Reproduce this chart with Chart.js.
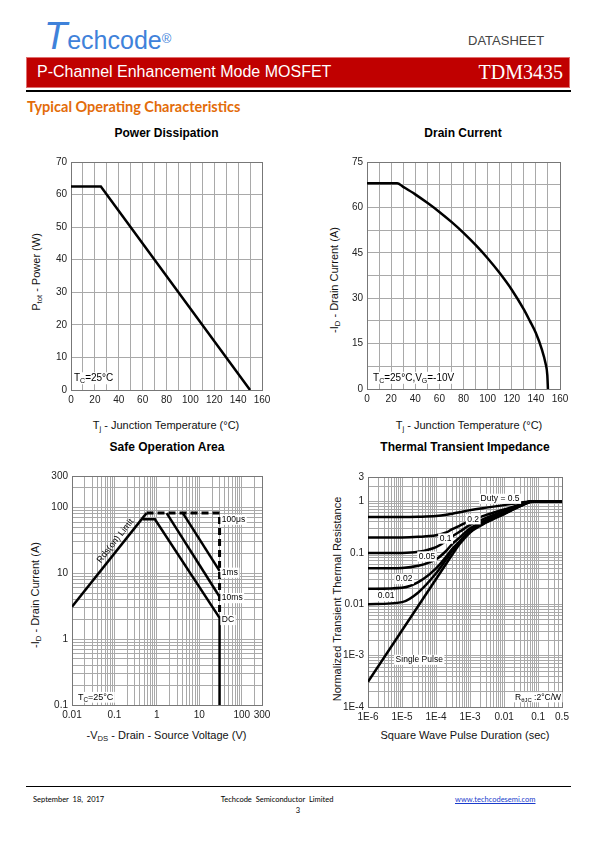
<!DOCTYPE html>
<html>
<head>
<meta charset="utf-8">
<script src="https://cdn.jsdelivr.net/npm/chart.js@4.4.1/dist/chart.umd.min.js"></script>
<style>
body { margin: 0; width: 595px; height: 842px; position: relative; background: #fff; overflow: hidden;
       font-family: "Liberation Sans", Arial, sans-serif; color: #000; }
.abs { position: absolute; white-space: nowrap; }
.ctr { transform: translate(-50%, -50%); }
.rot { transform: translate(-50%, -50%) rotate(-90deg); }
.ttl { font-size: 12px; font-weight: bold; }
.axt { font-size: 11px; color: #111; }
sub { font-size: 70%; vertical-align: -0.3em; line-height: 0; }
canvas { position: absolute; }
</style>
</head>
<body>

<!-- page header -->
<div class="abs" style="left:44px;top:15px;color:#3f82da;">
  <span style="font-size:38px;font-style:italic;">T</span><span style="font-size:25px;">echcode</span><sup style="font-size:13px;">®</sup>
</div>
<div class="abs" style="left:468px;top:33px;font-size:13px;color:#444;">DATASHEET</div>
<div class="abs" style="left:26px;top:57px;width:544px;height:31px;background:#c00000;border:1px solid #e07070;box-sizing:border-box;"></div>
<div class="abs" style="left:37px;top:63px;font-size:16px;color:#fff;">P-Channel Enhancement Mode MOSFET</div>
<div class="abs" style="right:32px;top:61px;font-size:20px;color:#fff;font-family:'Liberation Serif',serif;">TDM3435</div>
<div class="abs" style="left:26px;top:90px;width:545px;height:2px;background:#000;"></div>
<div class="abs" style="left:27px;top:98px;font-size:14.5px;font-weight:bold;color:#e36c09;font-family:Lato,sans-serif;">Typical Operating Characteristics</div>

<!-- chart titles -->
<div class="abs ctr ttl" style="left:166.5px;top:132.5px;">Power Dissipation</div>
<div class="abs ctr ttl" style="left:463px;top:132.5px;">Drain Current</div>
<div class="abs ctr ttl" style="left:167px;top:446.5px;">Safe Operation Area</div>
<div class="abs ctr ttl" style="left:465px;top:446.5px;">Thermal Transient Impedance</div>

<!-- axis titles -->
<div class="abs ctr axt" style="left:166px;top:425px;">T<sub>j</sub> - Junction Temperature (°C)</div>
<div class="abs rot axt" style="left:36px;top:272px;">P<sub>tot</sub> - Power (W)</div>
<div class="abs ctr axt" style="left:469px;top:425px;">T<sub>j</sub> - Junction Temperature (°C)</div>
<div class="abs rot axt" style="left:334px;top:280px;">-I<sub>D</sub> - Drain Current (A)</div>
<div class="abs ctr axt" style="left:166.5px;top:735px;">-V<sub>DS</sub> - Drain - Source Voltage (V)</div>
<div class="abs rot axt" style="left:35px;top:595px;">-I<sub>D</sub> - Drain Current (A)</div>
<div class="abs ctr axt" style="left:465px;top:735px;">Square Wave Pulse Duration (sec)</div>
<div class="abs rot axt" style="left:337px;top:599px;">Normalized Transient Thermal Resistance</div>

<canvas id="pd"></canvas>
<canvas id="id"></canvas>
<canvas id="soa"></canvas>
<canvas id="zth"></canvas>

<!-- footer -->
<div class="abs" style="left:26px;top:786px;width:545px;height:1px;background:#000;"></div>
<div class="abs" style="left:33px;top:795px;font-size:7.5px;font-family:Lato,sans-serif;">September&nbsp; 18,&nbsp; 2017</div>
<div class="abs ctr" style="left:277px;top:799px;font-size:7.5px;font-family:Lato,sans-serif;">Techcode&nbsp; Semiconductor&nbsp; Limited</div>
<div class="abs ctr" style="left:298px;top:810px;font-size:7.5px;font-family:Lato,sans-serif;">3</div>
<div class="abs" style="left:455px;top:795px;font-size:7.5px;font-family:Lato,sans-serif;color:#1a3ccc;text-decoration:underline;">www.techcodesemi.com</div>

<script>
// ---- Power dissipation ----
let pdTemp = [0, 25, 150];
let pdPower = [62.5, 62.5, 0];

// ---- Drain current ----
let idTemp = [0, 25, 30, 40, 50, 60, 70, 80, 90, 100, 110, 120, 130, 135, 140, 145, 148, 149.5, 150];
let idCurrent = [68, 68, 66.8, 64.3, 61.5, 58.5, 55.2, 51.6, 47.6, 43.2, 38.3, 32.8, 26.3, 22.5, 18.5, 13, 8.5, 4.5, 0];

// ---- Safe operation area ----
let soaRdsV = [0.01, 0.57], soaRdsI = [3.1, 82];
let soaDcV = [0.46, 0.9, 30, 30], soaDcI = [66, 66, 2.1, 0.1];
let soa10msV = [1.7, 30], soa10msI = [82, 4.4];
let soa1msV = [4.1, 30], soa1msI = [82, 10.9];
let soa100usV = [0.57, 30, 30], soa100usI = [82, 82, 2.2];
let soaTickV = [0.01, 0.1, 1, 10, 100, 300];
let soaTickVLabels = ['0.01', '0.1', '1', '10', '100', '300'];
let soaTickI = [0.1, 1, 10, 100, 300];
let soaTickILabels = ['0.1', '1', '10', '100', '300'];

// ---- Thermal transient impedance ----
let zthTime = [1e-6, 1e-5, 3e-5, 1e-4, 2e-4, 3e-4, 5e-4, 1e-3, 3e-3, 0.01, 0.03, 0.06, 0.1, 0.5];
let zthD05 = [0.50, 0.50, 0.505, 0.52, 0.55, 0.58, 0.62, 0.68, 0.76, 0.85, 0.95, 1.0, 1.0, 1.0];
let zthD02 = [0.20, 0.20, 0.205, 0.22, 0.25, 0.29, 0.34, 0.42, 0.55, 0.70, 0.88, 1.0, 1.0, 1.0];
let zthD01 = [0.10, 0.10, 0.105, 0.13, 0.17, 0.21, 0.26, 0.35, 0.48, 0.65, 0.86, 1.0, 1.0, 1.0];
let zthD005 = [0.05, 0.051, 0.056, 0.075, 0.11, 0.15, 0.20, 0.30, 0.44, 0.61, 0.84, 1.0, 1.0, 1.0];
let zthD002 = [0.02, 0.021, 0.027, 0.05, 0.085, 0.12, 0.17, 0.27, 0.41, 0.59, 0.83, 1.0, 1.0, 1.0];
let zthD001 = [0.01, 0.011, 0.017, 0.04, 0.075, 0.11, 0.16, 0.26, 0.40, 0.58, 0.82, 0.99, 1.0, 1.0];
let zthSingleTime = [1e-6, 1e-4, 2e-4, 3e-4, 5e-4, 1e-3, 3e-3, 0.01, 0.03, 0.06, 0.1, 0.5];
let zthSingle = [3.1e-4, 0.031, 0.062, 0.093, 0.15, 0.25, 0.39, 0.57, 0.81, 0.98, 1.0, 1.0];
let zthTickT = [1e-6, 1e-5, 1e-4, 1e-3, 0.01, 0.1, 0.5];
let zthTickTLabels = ['1E-6', '1E-5', '1E-4', '1E-3', '0.01', '0.1', '0.5'];
let zthTickZ = [1e-4, 1e-3, 0.01, 0.1, 1, 3];
let zthTickZLabels = ['1E-4', '1E-3', '0.01', '0.1', '1', '3'];

const FONT = 'Liberation Sans';
const PAD_T = 12, PAD_R = 18, Y_W = 52, X_H = 24;

function zip(xs, ys) {
    return xs.map((x, i) => ({x: x, y: ys[i]}));
}

// all 1..9 x 10^n grid values from 10^minExp up to maxValue
function logGrid(minExp, maxValue) {
    const out = [];
    for (let e = minExp; e < 10; e++) {
        for (let m = 1; m <= 9; m++) {
            const v = Number((m * Math.pow(10, e)).toPrecision(3));
            if (v > maxValue * 1.0001) return out;
            out.push(v);
        }
    }
    return out;
}

function labeler(values, labels) {
    return (v) => {
        const i = values.findIndex(t => Math.abs(t - v) / t < 1e-6);
        return i >= 0 ? labels[i] : '';
    };
}

function placeCanvas(id, plot) {
    const cv = document.getElementById(id);
    const w = plot.r - plot.l + Y_W + PAD_R;
    const h = plot.b - plot.t + PAD_T + X_H;
    cv.width = w; cv.height = h;
    cv.style.width = w + 'px'; cv.style.height = h + 'px';
    cv.style.left = (plot.l - Y_W) + 'px';
    cv.style.top = (plot.t - PAD_T) + 'px';
    return cv;
}

const notesPlugin = {
    id: 'notes',
    beforeDatasetsDraw(chart) {
        const a = chart.chartArea, ctx = chart.ctx;
        ctx.save();
        ctx.strokeStyle = '#777';
        ctx.lineWidth = 1;
        ctx.strokeRect(Math.round(a.left - 0.5) + 0.5, Math.round(a.top - 0.5) + 0.5, a.right - a.left, a.bottom - a.top);
        ctx.restore();
    },
    afterDatasetsDraw(chart, args, opts) {
        const ctx = chart.ctx, xs = chart.scales.x, ys = chart.scales.y;
        for (const n of (opts.items || [])) {
            const size = n.size || 10;
            const parts = n.parts.map(p => typeof p === 'string' ? {t: p} : p);
            ctx.save();
            ctx.translate(xs.getPixelForValue(n.x), ys.getPixelForValue(n.y));
            if (n.along !== undefined) {
                const d = chart.data.datasets[n.along].data;
                const p0 = d[0], p1 = d[d.length - 1];
                ctx.rotate(Math.atan2(ys.getPixelForValue(p1.y) - ys.getPixelForValue(p0.y),
                                      xs.getPixelForValue(p1.x) - xs.getPixelForValue(p0.x)));
            }
            let w = 0;
            for (const p of parts) {
                ctx.font = (p.sub ? size * 0.7 : size) + 'px "' + FONT + '"';
                p.w = ctx.measureText(p.t).width;
                w += p.w;
            }
            let x0 = n.align === 'left' ? 0 : (n.align === 'right' ? -w : -w / 2);
            if (n.bg !== false) {
                ctx.fillStyle = '#fff';
                ctx.fillRect(x0 - 1.5, -size * 0.6, w + 3, size * 1.2);
            }
            ctx.fillStyle = '#000';
            ctx.textBaseline = 'middle';
            ctx.textAlign = 'left';
            for (const p of parts) {
                ctx.font = (p.sub ? size * 0.7 : size) + 'px "' + FONT + '"';
                ctx.fillText(p.t, x0, p.sub ? size * 0.32 : 0);
                x0 += p.w;
            }
            ctx.restore();
        }
    }
};

function axis(extra) {
    const base = {
        grid: {color: '#a9a9a9', lineWidth: 1, drawTicks: false},
        border: {color: '#777', width: 1},
        ticks: {color: '#222', font: {family: FONT, size: 10}, padding: 4, autoSkip: false, maxRotation: 0, minRotation: 0}
    };
    const out = Object.assign({}, base, extra);
    out.ticks = Object.assign({}, base.ticks, extra.ticks || {});
    return out;
}

function makeChart(id, plot, datasets, scales, notes) {
    const cv = placeCanvas(id, plot);
    scales.x.afterFit = (s) => { s.height = X_H; };
    scales.y.afterFit = (s) => { s.width = Y_W; };
    return new Chart(cv, {
        type: 'line',
        data: {datasets: datasets},
        options: {
            responsive: false,
            animation: false,
            events: [],
            layout: {padding: {top: PAD_T, right: PAD_R, left: 0, bottom: 0}},
            elements: {point: {radius: 0}, line: {borderColor: '#000', borderWidth: 2.5, fill: false}},
            scales: scales,
            plugins: {legend: {display: false}, tooltip: {enabled: false}, notes: {items: notes}}
        },
        plugins: [notesPlugin]
    });
}

function line(xs, ys, extra) {
    return Object.assign({data: zip(xs, ys), borderColor: '#000', borderWidth: 2.5, pointRadius: 0}, extra || {});
}

// Power dissipation
makeChart('pd', {l: 71, t: 162, r: 262, b: 390},
    [line(pdTemp, pdPower)],
    {
        x: axis({type: 'linear', min: 0, max: 160, ticks: {stepSize: 10, callback: v => v % 20 === 0 ? v : ''}}),
        y: axis({type: 'linear', min: 0, max: 70, ticks: {stepSize: 10}})
    },
    [{x: 2.5, y: 3.6, align: 'left', parts: ['T', {t: 'C', sub: true}, '=25°C']}]
);

// Drain current
makeChart('id', {l: 367, t: 162, r: 560, b: 389},
    [line(idTemp, idCurrent, {cubicInterpolationMode: 'monotone'})],
    {
        x: axis({type: 'linear', min: 0, max: 160, ticks: {stepSize: 10, callback: v => v % 20 === 0 ? v : ''}}),
        y: axis({type: 'linear', min: 0, max: 75, ticks: {stepSize: 7.5, callback: v => Math.abs(v % 15) < 1e-6 ? v : ''}})
    },
    [{x: 5, y: 3.7, align: 'left', parts: ['T', {t: 'C', sub: true}, '=25°C,V', {t: 'G', sub: true}, '=-10V']}]
);

// Safe operation area
const soaGridV = logGrid(-2, 300), soaGridI = logGrid(-1, 300);
makeChart('soa', {l: 72, t: 476, r: 262, b: 705},
    [
        line(soaRdsV, soaRdsI, {borderWidth: 2.5}),
        line(soaDcV, soaDcI, {borderWidth: 2.5}),
        line(soa10msV, soa10msI, {borderWidth: 2.5}),
        line(soa1msV, soa1msI, {borderWidth: 2.5}),
        line(soa100usV, soa100usI, {borderWidth: 3, borderDash: [7, 4]})
    ],
    {
        x: axis({type: 'logarithmic', min: 0.01, max: 300,
                 afterBuildTicks: s => { s.ticks = soaGridV.map(v => ({value: v})); },
                 ticks: {callback: labeler(soaTickV, soaTickVLabels)}}),
        y: axis({type: 'logarithmic', min: 0.1, max: 300,
                 afterBuildTicks: s => { s.ticks = soaGridI.map(v => ({value: v})); },
                 ticks: {callback: labeler(soaTickI, soaTickILabels)}})
    },
    [
        {x: 0.0138, y: 0.131, size: 9, align: 'left', parts: ['T', {t: 'C', sub: true}, '=25°C']},
        {x: 0.105, y: 31, size: 9, along: 0, bg: false, parts: ['Rds(on) Limit']},
        {x: 34, y: 65, size: 8.5, align: 'left', parts: ['100μs']},
        {x: 34, y: 10.2, size: 8.5, align: 'left', parts: ['1ms']},
        {x: 34, y: 4.2, size: 8.5, align: 'left', parts: ['10ms']},
        {x: 34, y: 1.95, size: 8.5, align: 'left', parts: ['DC']}
    ]
);

// Thermal transient impedance
const zthGridT = logGrid(-6, 0.5), zthGridZ = logGrid(-4, 3);
const zthCurve = (ys) => line(zthTime, ys, {cubicInterpolationMode: 'monotone'});
makeChart('zth', {l: 368, t: 477, r: 562, b: 707},
    [
        zthCurve(zthD05), zthCurve(zthD02), zthCurve(zthD01),
        zthCurve(zthD005), zthCurve(zthD002), zthCurve(zthD001),
        line(zthSingleTime, zthSingle, {cubicInterpolationMode: 'monotone'})
    ],
    {
        x: axis({type: 'logarithmic', min: 1e-6, max: 0.5,
                 afterBuildTicks: s => { s.ticks = zthGridT.map(v => ({value: v})); },
                 ticks: {callback: labeler(zthTickT, zthTickTLabels)}}),
        y: axis({type: 'logarithmic', min: 1e-4, max: 3,
                 afterBuildTicks: s => { s.ticks = zthGridZ.map(v => ({value: v})); },
                 ticks: {callback: labeler(zthTickZ, zthTickZLabels)}})
    },
    [
        {x: 7.6e-3, y: 1.13, size: 8.5, parts: ['Duty = 0.5']},
        {x: 1.23e-3, y: 0.45, size: 8.5, parts: ['0.2']},
        {x: 1.9e-4, y: 0.19, size: 8.5, parts: ['0.1']},
        {x: 5.4e-5, y: 0.085, size: 8.5, parts: ['0.05']},
        {x: 1.15e-5, y: 0.031, size: 8.5, parts: ['0.02']},
        {x: 3.4e-6, y: 0.0145, size: 8.5, parts: ['0.01']},
        {x: 3.2e-5, y: 8.3e-4, size: 8.5, parts: ['Single Pulse']},
        {x: 0.47, y: 1.55e-4, size: 8.5, align: 'right', parts: ['R', {t: 'θJC', sub: true}, ' :2°C/W']}
    ]
);
</script>
</body>
</html>
